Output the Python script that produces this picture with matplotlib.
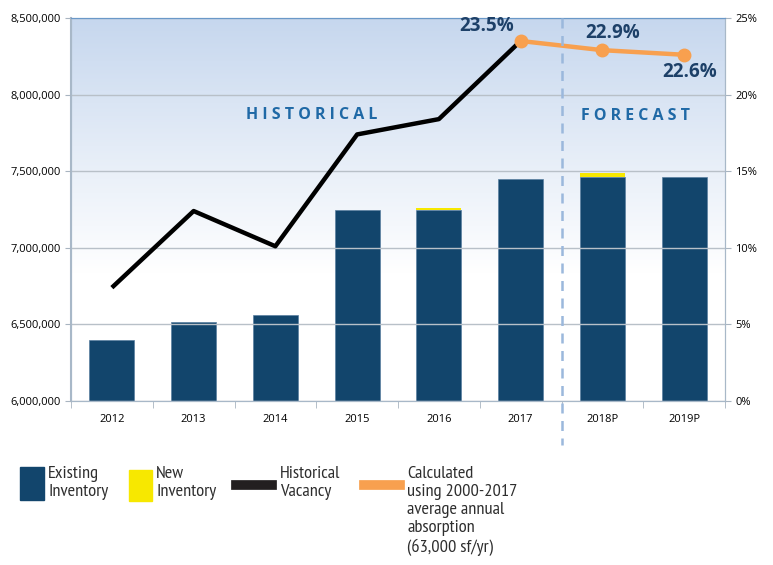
import matplotlib
matplotlib.use("Agg")
import matplotlib.pyplot as plt
import numpy as np
from matplotlib.ticker import FuncFormatter, FixedLocator
from matplotlib.patches import Rectangle
from matplotlib.lines import Line2D
from matplotlib.colors import LinearSegmentedColormap

# Data
years = ["2012", "2013", "2014", "2015", "2016", "2017", "2018P", "2019P"]
existing = [6400000, 6517000, 6560000, 7250000, 7250000, 7450000, 7460000, 7460000]
new_inv = [0, 0, 0, 0, 10000, 0, 30000, 0]
hist_years = ["2012", "2013", "2014", "2015", "2016", "2017"]
hist_vacancy = [7.4, 12.4, 10.1, 17.4, 18.4, 23.5]
fc_years = ["2017", "2018P", "2019P"]
fc_vacancy = [23.5, 22.9, 22.6]
fc_labels = ["23.5%", "22.9%", "22.6%"]

NAVY = "#12456c"
YELLOW = "#f7e800"
ORANGE = "#f8a04f"
LABEL = "#1d4068"
SECTION = "#1f69a6"

plt.rcParams['font.family'] = ['Open Sans', 'DejaVu Sans']

fig = plt.figure(figsize=(7.73, 5.65), dpi=100)
ax = fig.add_axes([71 / 773, 1 - 401 / 565, 654 / 773, 383 / 565])
ax2 = ax.twinx()

x = np.arange(len(years))
ax.set_xlim(-0.5, len(years) - 0.5)
ax.set_ylim(6000000, 8500000)

# gradient background
grad = np.linspace(0, 1, 256).reshape(-1, 1)
cmap = LinearSegmentedColormap.from_list("bg", ["#ffffff", "#ffffff", "#e4ecf7", "#c6d7ee"])
ax.imshow(grad, aspect="auto", cmap=cmap, origin="lower",
          extent=[-0.5, len(years) - 0.5, 6000000, 8500000], zorder=0)

ax.set_yticks(np.arange(6000000, 8500001, 500000))
ax.yaxis.set_major_formatter(FuncFormatter(lambda v, p: f"{int(v):,}"))
ax.grid(axis="y", color="#b8c0c8", linewidth=1, zorder=1)
ax.set_axisbelow(False)

ax.bar(x, np.array(existing) - 6000000, bottom=6000000, width=0.55, color=NAVY,
       edgecolor="#5a7fa0", linewidth=0.5, zorder=2)
ax.bar(x, new_inv, bottom=existing, width=0.55, color=YELLOW, linewidth=0, zorder=2)

ax.set_xticks(x)
ax.set_xticklabels(years, fontsize=8)
ax.xaxis.set_minor_locator(FixedLocator(np.arange(-0.5, len(years), 1.0)))
ax.tick_params(axis="x", which="major", length=0, pad=9)
ax.tick_params(axis="x", which="minor", length=5, color="#a8b4c0")
ax.tick_params(axis="y", labelsize=8, length=4, color="#a8b4c0")

for s in ["left", "right", "bottom"]:
    ax.spines[s].set_color("#a8b8c8")
    ax2.spines[s].set_color("#a8b8c8")
ax.spines["left"].set_linewidth(1.5)
ax.spines["top"].set_color("#6a98c8")
ax2.spines["top"].set_color("#6a98c8")

# vacancy lines on right axis
ax2.set_ylim(0, 25)
ax2.set_yticks(np.arange(0, 26, 5))
ax2.yaxis.set_major_formatter(FuncFormatter(lambda v, p: f"{int(v)}%"))
ax2.tick_params(axis="y", labelsize=8, length=4, color="#a8b4c0")
hx = [years.index(y) for y in hist_years]
fx = [years.index(y) for y in fc_years]
ax2.plot(hx, hist_vacancy, color="black", linewidth=3.2, solid_capstyle="butt", zorder=4)
ax2.plot(fx, fc_vacancy, color=ORANGE, linewidth=3.2, marker="o", markersize=9, zorder=5)

ax2.text(fx[0] - 0.08, fc_vacancy[0] + 0.35, fc_labels[0], ha="right", va="bottom",
         fontsize=13.5, fontweight="bold", color=LABEL)
ax2.text(fx[1] + 0.13, fc_vacancy[1] + 0.45, fc_labels[1], ha="center", va="bottom",
         fontsize=13.5, fontweight="bold", color=LABEL)
ax2.text(fx[2] + 0.07, fc_vacancy[2] - 0.5, fc_labels[2], ha="center", va="top",
         fontsize=13.5, fontweight="bold", color=LABEL)

# forecast divider, extends below the axis
ax2.plot([5.5, 5.5], [25, -2.9], color="#9bb8dc", linewidth=1.8, linestyle=(0, (4, 3)),
         clip_on=False, zorder=6)

ax2.text(2.45, 18.7, "H I S T O R I C A L", ha="center", va="center", fontsize=11.5,
         fontweight="bold", color=SECTION)
ax2.text(6.4, 18.6, "F O R E C A S T", ha="center", va="center", fontsize=11.5,
         fontweight="bold", color=SECTION)

# legend at bottom (figure coordinates in pixels)
def px(xp, yp):
    return xp / 773, 1 - yp / 565

leg_font = ['PT Sans Narrow', 'Archivo Narrow', 'Open Sans', 'DejaVu Sans']
fs = 13.2
txt = dict(va="top", ha="left", fontsize=fs, color="#2e2e2e", linespacing=1.18,
           family=leg_font)
fig.patches.append(Rectangle(px(20, 500), 24 / 773, 33 / 565, transform=fig.transFigure,
                             color=NAVY))
fig.text(*px(48, 466), "Existing\nInventory", **txt)
fig.patches.append(Rectangle(px(129, 501), 23 / 773, 31 / 565, transform=fig.transFigure,
                             color=YELLOW))
fig.text(*px(156, 466), "New\nInventory", **txt)
fig.lines.append(Line2D([236 / 773, 272 / 773], [1 - 485 / 565] * 2, transform=fig.transFigure,
                        color="#231f20", linewidth=7))
fig.text(*px(280, 466), "Historical\nVacancy", **txt)
fig.lines.append(Line2D([364 / 773, 400 / 773], [1 - 485 / 565] * 2, transform=fig.transFigure,
                        color=ORANGE, linewidth=7))
fig.text(*px(407, 466), "Calculated\nusing 2000-2017\naverage annual\nabsorption\n(63,000 sf/yr)",
         **txt)

fig.savefig("out.png", dpi=100)
